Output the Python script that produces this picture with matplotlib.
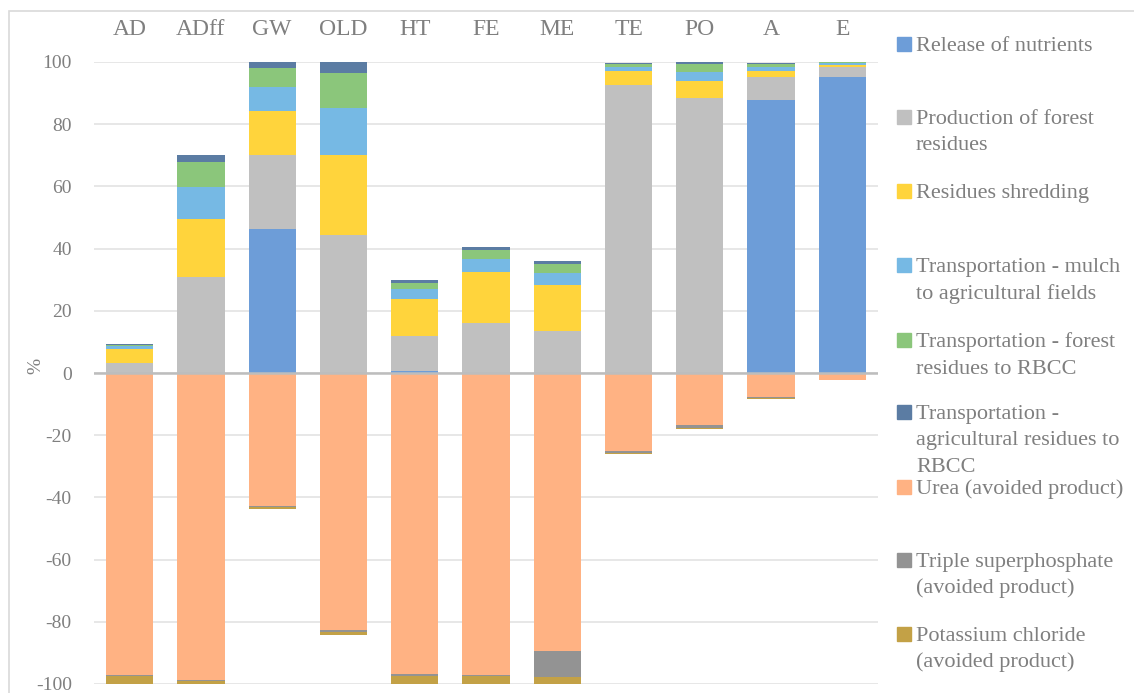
import matplotlib.pyplot as plt
from matplotlib.patches import Rectangle
import numpy as np

# categories and values (%)
categories = ['AD', 'ADff', 'GW', 'OLD', 'HT', 'FE', 'ME', 'TE', 'PO', 'A', 'E']

release = [0.0, 0.0, 46.4, 0.0, 0.5, 0.0, 0.0, 0.0, 0.0, 87.8, 95.1]
production = [3.2, 30.8, 23.6, 44.5, 11.3, 16.1, 13.4, 92.7, 88.3, 7.5, 3.4]
shredding = [4.6, 18.6, 14.1, 25.7, 12.1, 16.4, 14.8, 4.5, 5.5, 1.9, 0.4]
mulch = [0.8, 10.5, 8.0, 15.0, 3.0, 4.2, 4.0, 1.3, 3.0, 1.3, 0.8]
forest_rbcc = [0.5, 7.8, 6.0, 11.2, 2.1, 2.8, 2.8, 0.9, 2.4, 0.9, 0.2]
agri_rbcc = [0.1, 2.5, 1.9, 3.6, 0.9, 1.0, 0.9, 0.3, 0.8, 0.4, 0.1]
urea = [-97.0, -98.6, -42.7, -82.7, -96.7, -97.1, -89.3, -25.0, -16.6, -7.6, -2.4]
tsp = [-0.5, -0.3, -0.4, -0.5, -0.7, -0.4, -8.3, -0.7, -1.1, -0.5, 0.0]
kcl = [-2.4, -1.0, -0.6, -0.9, -2.5, -2.4, -2.3, -0.5, -0.3, -0.1, 0.0]

labels = ['Release of nutrients',
          'Production of forest\nresidues',
          'Residues shredding',
          'Transportation - mulch\nto agricultural fields',
          'Transportation - forest\nresidues to RBCC',
          'Transportation -\nagricultural residues to\nRBCC',
          'Urea (avoided product)',
          'Triple superphosphate\n(avoided product)',
          'Potassium chloride\n(avoided product)']
colors = ['#6d9dd8', '#c0c0c0', '#ffd43c', '#76b9e4', '#8bc67b',
          '#5b7ca3', '#ffb283', '#939393', '#c3a146']

pos_series = [release, production, shredding, mulch, forest_rbcc, agri_rbcc]
neg_series = [urea, tsp, kcl]

W, H = 1134, 693
plt.rcParams['font.family'] = ['Liberation Serif', 'DejaVu Serif']
plt.rcParams['axes.unicode_minus'] = False
fig = plt.figure(figsize=(W / 100, H / 100), dpi=100)
txt_col = '#7f7f7f'

ax = fig.add_axes([94 / W, 1 - 684 / H, (878 - 94) / W, (684 - 62) / H])
x = np.arange(len(categories))
bw = 0.663

bottom = np.zeros(len(categories))
for vals, c in zip(pos_series, colors[:6]):
    ax.bar(x, vals, bw, bottom=bottom, color=c, zorder=2)
    bottom += np.array(vals)
bottom = np.zeros(len(categories))
for vals, c in zip(neg_series, colors[6:]):
    ax.bar(x, vals, bw, bottom=bottom, color=c, zorder=2)
    bottom += np.array(vals)

ax.set_xlim(-0.5, len(categories) - 0.5)
ax.set_ylim(-100, 100)
ax.set_yticks(range(-100, 101, 20))
ax.yaxis.grid(True, color='#e3e3e3', lw=1.2, zorder=0)
ax.axhline(0, color='#bdbdbd', lw=1.8, zorder=3)
ax.set_axisbelow(True)
for s in ax.spines.values():
    s.set_visible(False)

ax.xaxis.tick_top()
ax.set_xticks(x)
ax.set_xticklabels(categories)
ax.tick_params(axis='x', length=0, pad=16, labelsize=17, labelcolor=txt_col)
ax.tick_params(axis='y', length=0, pad=16, labelsize=14, labelcolor=txt_col)

fig.text(36 / W, 1 - 366 / H, '%', rotation=90, ha='center', va='center',
         fontsize=14, color=txt_col)

# chart area border (left and top visible)
fig.patches.append(Rectangle((9 / W, -0.1), 1.2, 1 - 11 / H + 0.1,
                             transform=fig.transFigure, fill=False,
                             edgecolor='#d9d9d9', lw=1.2))

# legend, drawn line by line
baselines = [51, 124, 198, 272, 347, 419, 494, 567, 641]
for lab, c, b in zip(labels, colors, baselines):
    fig.patches.append(Rectangle((897 / W, 1 - b / H), 14 / W, 14 / H,
                                 transform=fig.transFigure, color=c))
    for i, line in enumerate(lab.split('\n')):
        fig.text(916 / W, 1 - (b + 26.5 * i) / H, line, ha='left',
                 va='baseline', fontsize=16, color=txt_col)

fig.savefig('out.png', dpi=100)
